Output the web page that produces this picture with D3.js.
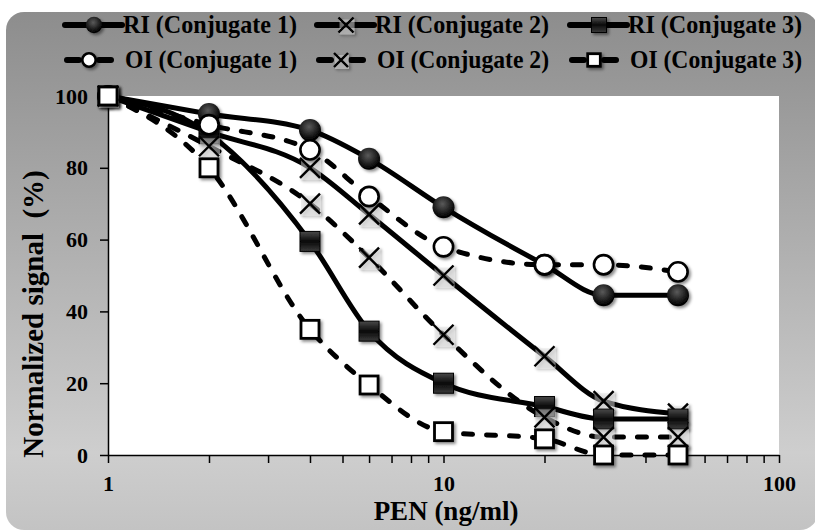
<!DOCTYPE html>
<html>
<head>
<meta charset="utf-8">
<script src="https://cdn.jsdelivr.net/npm/d3@7"></script>
<style>
  body { margin: 0; background: #fff; }
  text { font-family: "Liberation Serif", "Times New Roman", serif; font-weight: bold; fill: #000; }
</style>
</head>
<body>
<div id="chart"></div>
<script>
/******************************************************************************/
/*  Data                                                                      */
/******************************************************************************/

var concentrations = [1, 2, 4, 6, 10, 20, 30, 50];

var riConj1 = [100, 95, 90.5, 82.5, 69, 53, 44.5, 44.5];
var riConj2 = [100, 90, 80, 67, 50, 27.5, 15, 11.5];
var riConj3 = [100, 89.5, 59.5, 34.5, 20, 13.5, 10, 10];
var oiConj1 = [100, 92, 85, 72, 58, 53, 53, 51];
var oiConj2 = [100, 86, 70, 55, 33.5, 10.5, 5, 5];
var oiConj3 = [100, 80, 35, 19.5, 6.5, 4.5, 0, 0];

var yTicks = [0, 20, 40, 60, 80, 100];
var xLabels = [1, 10, 100];

var series = [
  { name: 'RI (Conjugate 1)', values: riConj1, marker: 'dot',    dashed: false },
  { name: 'RI (Conjugate 2)', values: riConj2, marker: 'cross',  dashed: false },
  { name: 'RI (Conjugate 3)', values: riConj3, marker: 'block',  dashed: false },
  { name: 'OI (Conjugate 1)', values: oiConj1, marker: 'ring',   dashed: true },
  { name: 'OI (Conjugate 2)', values: oiConj2, marker: 'cross',  dashed: true },
  { name: 'OI (Conjugate 3)', values: oiConj3, marker: 'box',    dashed: true }
];


/******************************************************************************/
/*  Frame                                                                     */
/******************************************************************************/

var W = 815, H = 532;
var plot = { left: 108, right: 779, top: 96, bottom: 455 };

var svg = d3.select('#chart')
  .append('svg')
    .attr('width', W)
    .attr('height', H)

var defs = svg.append('defs');

var bg = defs.append('linearGradient')
    .attr('id', 'bg').attr('x1', 0).attr('y1', 0).attr('x2', 0).attr('y2', 1);
[['0%', '#8d8d8d'], ['45%', '#afafaf'], ['85%', '#cecece'], ['100%', '#c3c3c3']]
  .forEach(function(s){ bg.append('stop').attr('offset', s[0]).attr('stop-color', s[1]); });

var ball = defs.append('radialGradient')
    .attr('id', 'ball').attr('cx', '45%').attr('cy', '35%').attr('r', '60%');
ball.append('stop').attr('offset', '0%').attr('stop-color', '#5a5a5a');
ball.append('stop').attr('offset', '100%').attr('stop-color', '#000');

var cube = defs.append('linearGradient')
    .attr('id', 'cube').attr('x1', 0).attr('y1', 0).attr('x2', 0).attr('y2', 1);
[['0%', '#4a4a4a'], ['50%', '#0a0a0a'], ['100%', '#3a3a3a']]
  .forEach(function(s){ cube.append('stop').attr('offset', s[0]).attr('stop-color', s[1]); });

var shadow = defs.append('filter').attr('id', 'shadow')
    .attr('x', '-50%').attr('y', '-50%').attr('width', '200%').attr('height', '200%');
shadow.append('feDropShadow')
    .attr('dx', 2).attr('dy', 2).attr('stdDeviation', 1.5)
    .attr('flood-color', '#000').attr('flood-opacity', 0.45);

svg.append('rect')
    .attr('x', 6).attr('y', 12)
    .attr('width', 812).attr('height', 518)
    .attr('rx', 18)
    .attr('fill', 'url(#bg)')

svg.append('rect')
    .attr('x', plot.left).attr('y', plot.top)
    .attr('width', plot.right - plot.left)
    .attr('height', plot.bottom - plot.top)
    .attr('fill', '#fff')


/******************************************************************************/
/*  Scales & Axes                                                             */
/******************************************************************************/

var x = d3.scaleLog().domain([1, 100]).range([plot.left, plot.right]);
var y = d3.scaleLinear().domain([0, 100]).range([plot.bottom, plot.top]);

var xTickValues = d3.range(1, 10).concat(d3.range(10, 101, 10));

var xAxis = svg.append('g')
    .attr('transform', 'translate(0,' + plot.bottom + ')')
    .call(d3.axisBottom(x)
      .tickValues(xTickValues)
      .tickSize(8).tickSizeOuter(0).tickPadding(12)
      .tickFormat(function(d){ return xLabels.indexOf(d) >= 0 ? d : ''; }))

var yAxis = svg.append('g')
    .attr('transform', 'translate(' + plot.left + ',0)')
    .call(d3.axisLeft(y)
      .tickValues(yTicks)
      .tickSize(8).tickSizeOuter(0).tickPadding(12))

svg.selectAll('.domain, .tick line')
    .attr('stroke', '#000').attr('stroke-width', 1.5)
svg.selectAll('.tick text')
    .style('font-size', '22px').attr('fill', '#000')

svg.append('text')
    .attr('x', 446).attr('y', 520)
    .attr('text-anchor', 'middle')
    .style('font-size', '27px')
    .text('PEN (ng/ml)')

svg.append('text')
    .attr('transform', 'translate(43,314) rotate(-90)')
    .attr('text-anchor', 'middle')
    .style('font-size', '29px')
    .style('white-space', 'pre')
    .text('Normalized signal  (%)')


/******************************************************************************/
/*  Markers                                                                   */
/******************************************************************************/

/* Draw one marker of the given type into g, centred on (cx, cy) */
function drawMarker(g, type, cx, cy, s){
  var m = g.append('g')
      .attr('transform', 'translate(' + cx + ',' + cy + ')')
      .attr('filter', 'url(#shadow)');
  if (type == 'dot'){
    m.append('circle').attr('r', s * 0.55).attr('fill', 'url(#ball)');
  } else if (type == 'ring'){
    m.append('circle').attr('r', s * 0.48)
      .attr('fill', '#fff').attr('stroke', '#000').attr('stroke-width', 2.6);
  } else if (type == 'block'){
    m.append('rect').attr('x', -s / 2).attr('y', -s / 2).attr('width', s).attr('height', s)
      .attr('fill', 'url(#cube)').attr('stroke', '#000').attr('stroke-width', 1);
  } else if (type == 'box'){
    var b = s * 0.9;
    m.append('rect').attr('x', -b / 2).attr('y', -b / 2).attr('width', b).attr('height', b)
      .attr('fill', '#fff').attr('stroke', '#000').attr('stroke-width', 2.8);
  } else if (type == 'cross'){
    var h = s / 2;
    m.append('rect').attr('x', -h + 1).attr('y', -h + 2).attr('width', s).attr('height', s)
      .attr('fill', '#d9d9d9').attr('opacity', 0.45);
    m.append('path')
      .attr('d', 'M' + (-h) + ',' + (-h) + 'L' + h + ',' + h + 'M' + h + ',' + (-h) + 'L' + (-h) + ',' + h)
      .attr('stroke', '#000').attr('stroke-width', 2.4).attr('fill', 'none');
  }
}


/******************************************************************************/
/*  Series                                                                    */
/******************************************************************************/

var line = d3.line()
    .x(function(d){ return x(d[0]); })
    .y(function(d){ return y(d[1]); })
    .curve(d3.curveMonotoneX);

var seriesG = svg.append('g');

series.forEach(function(s){
  var pts = concentrations.map(function(c, i){ return [c, s.values[i]]; });
  var g = seriesG.append('g');

  g.append('path')
      .attr('d', line(pts))
      .attr('fill', 'none')
      .attr('stroke', '#000')
      .attr('stroke-width', 5)
      .attr('stroke-linecap', s.dashed ? 'round' : 'butt')
      .attr('stroke-dasharray', s.dashed ? '9,14' : null)

  pts.forEach(function(p){ drawMarker(g, s.marker, x(p[0]), y(p[1]), 20); });
});


/******************************************************************************/
/*  Legend                                                                    */
/******************************************************************************/

var legendCols = [65, 317, 570];
var legendRows = [25, 60];

var legend = svg.append('g');

series.forEach(function(s, i){
  var lx = legendCols[i % 3],
      ly = legendRows[Math.floor(i / 3)],
      lg = legend.append('g');

  if (s.dashed){
    [[lx + 2, lx + 14], [lx + 34, lx + 46]].forEach(function(seg){
      lg.append('line')
          .attr('x1', seg[0]).attr('x2', seg[1]).attr('y1', ly).attr('y2', ly)
          .attr('stroke', '#000').attr('stroke-width', 6).attr('stroke-linecap', 'round')
    });
    drawMarker(lg, s.marker, lx + 24, ly, 14);
  } else {
    lg.append('line')
        .attr('x1', lx).attr('x2', lx + 57).attr('y1', ly).attr('y2', ly)
        .attr('stroke', '#000').attr('stroke-width', 6).attr('stroke-linecap', 'round')
    drawMarker(lg, s.marker, lx + 29, ly, 15);
  }

  // Narrow, tall lettering like the original
  var tx = s.dashed ? lx + 60 : lx + 58;
  lg.append('text')
      .attr('x', tx)
      .attr('y', ly + 8)
      .attr('textLength', lx + 232 - tx)
      .attr('lengthAdjust', 'spacingAndGlyphs')
      .style('font-size', '25px')
      .text(s.name)
});
</script>
</body>
</html>
